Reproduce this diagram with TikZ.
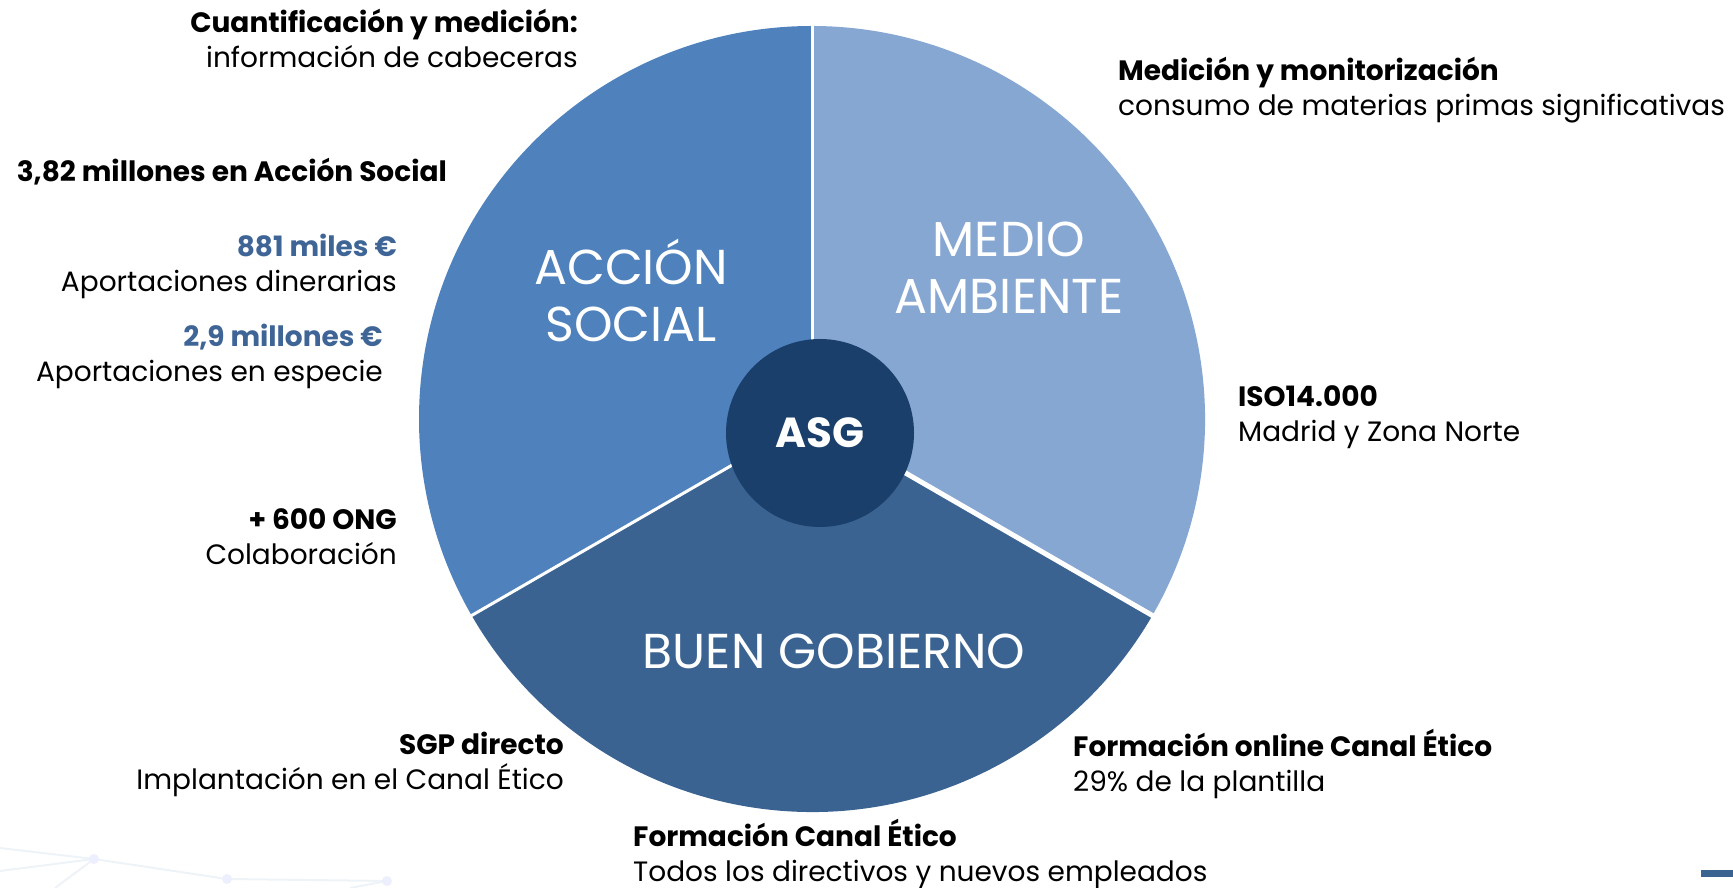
\documentclass[tikz,border=0pt]{standalone}
\usepackage{fontspec}
\setmainfont{Poppins}
\usetikzlibrary{positioning}

\definecolor{socialblue}{HTML}{4F81BD}
\definecolor{ambienteblue}{HTML}{87A7D3}
\definecolor{gobiernoblue}{HTML}{3A6391}
\definecolor{asgblue}{HTML}{1A3F6B}
\definecolor{numblue}{HTML}{3F6597}
\definecolor{netblue}{HTML}{EEF3F8}

\tikzset{
  note/.style={font=\fontsize{28}{35}\selectfont, inner sep=0pt},
  noteR/.style={note, anchor=east, align=right},
  noteL/.style={note, anchor=west, align=left},
  slicelabel/.style={text=white, font=\fontsize{49}{57}\selectfont, align=center, inner sep=0pt},
  divider/.style={white, line width=3pt},
}

\begin{document}
\begin{tikzpicture}[x=1pt,y=1pt]
    \useasboundingbox (0,0) rectangle (1733,888);
    % faint network in the corner
    \draw[netblue, line width=2pt] (0,40) -- (94,29) -- (227,9) -- (387,7);
    \draw[netblue, line width=2pt] (0,17) -- (94,29) -- (55,0);
    \draw[netblue, line width=2pt] (387,7) -- (350,0);
    \fill[netblue!70!blue!20] (94,29) circle (5) (227,9) circle (5) (387,7) circle (5);
    \fill[gobiernoblue] (1701,11) rectangle (1733,18);

    % pie
    \coordinate (pc) at (812,469);
    \fill[socialblue] (pc) -- ++(90:393) arc[start angle=90, end angle=210, radius=393] -- cycle;
    \fill[gobiernoblue] (pc) -- ++(210:393) arc[start angle=210, end angle=330, radius=393] -- cycle;
    \fill[ambienteblue] (pc) -- ++(330:393) arc[start angle=330, end angle=450, radius=393] -- cycle;
    \draw[divider] (pc) -- ++(90:395);
    \draw[divider] (pc) -- ++(210:395);
    \draw[divider, line width=5pt] (pc) -- ++(330:395);

    \node[circle, fill=asgblue, minimum size=188pt, inner sep=0pt, text=white,
          font=\fontsize{42}{48}\selectfont\bfseries] (asg) at (820,455) {ASG};

    \node[slicelabel] (social) at (631,598) {ACCIÓN\\SOCIAL};
    \node[slicelabel] (ambiente) at (1009,620) {MEDIO\\AMBIENTE};
    \node[slicelabel] (gobierno) at (834,237) {BUEN GOBIERNO};

    % notes on the left
    \node[noteR] (cuant) at (578,850) {\textbf{Cuantificación y medición:}\\información de cabeceras};
    \node[noteR] (total) at (447,716) {\textbf{3,82 millones en Acción Social}};
    \node[noteR] (diner) at (397,622) {\textcolor{numblue}{\textbf{881 miles €}}\\Aportaciones dinerarias};
    \node[noteR] (especie) at (383,532) {\textcolor{numblue}{\textbf{2,9 millones €}}\\Aportaciones en especie};
    \node[noteR] (ong) at (397,351) {\textbf{+ 600 ONG}\\Colaboración};
    \node[noteR] (sgp) at (564,124) {\textbf{SGP directo}\\Implantación en el Canal Ético};

    % notes on the right and below
    \node[noteL] (medicion) at (1118,798) {\textbf{Medición y monitorización}\\consumo de materias primas significativas};
    \node[noteL] (iso) at (1238,471) {\textbf{ISO14.000}\\Madrid y Zona Norte};
    \node[noteL] (online) at (1073,124) {\textbf{Formación online Canal Ético}\\29\% de la plantilla};
    \node[noteL] (canal) at (633,34) {\textbf{Formación Canal Ético}\\Todos los directivos y nuevos empleados};
\end{tikzpicture}
\end{document}
